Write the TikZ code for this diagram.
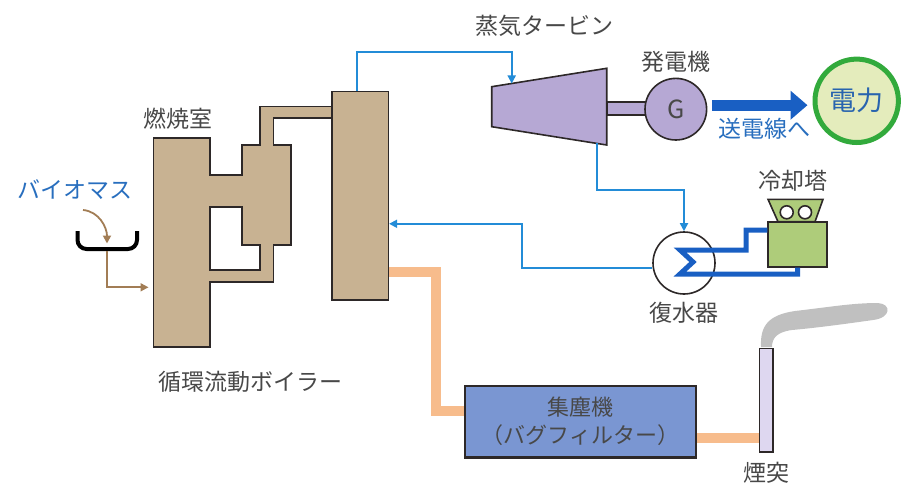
\documentclass[tikz,border=0pt]{standalone}
\usepackage{fontspec}
\newfontfamily\jpfont{Noto Sans CJK JP}
\usepackage{tikz}
\usetikzlibrary{positioning, arrows.meta, calc}

\definecolor{boilertan}{RGB}{200,178,146}
\definecolor{outlinegray}{RGB}{45,40,40}
\definecolor{txtgray}{RGB}{72,72,72}
\definecolor{steamblue}{RGB}{35,140,215}
\definecolor{waterblue}{RGB}{25,95,195}
\definecolor{labelblue}{RGB}{40,110,190}
\definecolor{turbinepurple}{RGB}{182,168,212}
\definecolor{feedbrown}{RGB}{162,125,85}
\definecolor{flueorange}{RGB}{247,188,140}
\definecolor{filterblue}{RGB}{122,150,210}
\definecolor{towergreen}{RGB}{174,204,122}
\definecolor{powergreen}{RGB}{50,170,60}
\definecolor{powerfill}{RGB}{228,236,188}
\definecolor{stackfill}{RGB}{222,215,240}
\definecolor{smokegray}{RGB}{192,192,192}

\begin{document}
\begin{tikzpicture}[
    x=1pt, y=-1pt,
    lbltext/.style={font=\jpfont\fontsize{23}{27}\selectfont, text=txtgray, inner sep=0pt},
    bluetext/.style={lbltext, text=labelblue},
    boilernode/.style={draw=outlinegray, line width=1.6pt, fill=boilertan},
    machinenode/.style={draw=outlinegray, line width=1.6pt, fill=turbinepurple},
    steamline/.style={steamblue, line width=1.8pt, -{Triangle[length=8pt,width=8pt]}},
    coolline/.style={waterblue, line width=5pt, line join=miter},
    flueline/.style={flueorange, line width=10pt},
    feedline/.style={feedbrown, line width=1.8pt, -{Triangle[length=8pt,width=8pt]}},
]
\useasboundingbox (0,0) rectangle (907,484);

% smoke and flue gas duct
\fill[smokegray] (761,347) .. controls (760,326) and (768,315) .. (795,311)
    .. controls (830,307) and (852,303) .. (878,303)
    .. controls (892,304) and (891,318) .. (873,320)
    .. controls (845,324) and (815,328) .. (792,330)
    .. controls (777,332) and (772,338) .. (772,347) -- cycle;

\node[boilernode, minimum width=56.6pt, minimum height=208.3pt, inner sep=0pt](riser) at (360,195.8){};
\node[draw=outlinegray, line width=2.4pt, fill=filterblue, minimum width=231pt, minimum height=71.3pt,
      font=\jpfont\fontsize{22}{28}\selectfont, text=txtgray, align=center](filter) at (580.5,421.7)
      {集塵機\\（バグフィルター）};
\node[draw=outlinegray, line width=1.6pt, fill=stackfill, minimum width=13.4pt, minimum height=103.4pt, inner sep=0pt](stack) at (766,400){};

\draw[flueline] ([yshift=-76pt]riser.east) -- ++(47,0) |- ([yshift=11pt]filter.west);
\coordinate (fout) at ([yshift=-16pt]filter.east);
\draw[flueline] (fout) -- (fout -| stack.west);

% combustion chamber, cyclone and downcomer
\draw[boilernode, even odd rule]
    (153.3,138.3) -- (210,138.3) -- (210,175) -- (241.7,175) -- (241.7,145) -- (260,145)
    -- (260,106.7) -- (331.7,106.7) -- (331.7,118.3) -- (273.3,118.3) -- (273.3,145)
    -- (290.7,145) -- (290.7,245) -- (273.3,245) -- (273.3,281.7) -- (210,281.7)
    -- (210,346.7) -- (153.3,346.7) -- cycle
    (210,206.7) -- (241.7,206.7) -- (241.7,245) -- (260,245) -- (260,270) -- (210,270) -- cycle;

% biomass hopper
\draw[black, line width=4pt, rounded corners=9pt] (77.5,231) -- (77.5,249) -- (137,249) -- (137,231);
\node[bluetext](biomass) at (75,190){バイオマス};
\coordinate (hopper) at (107,243.5);
\coordinate (feedin) at (148.5,287.3);
\draw[feedline] (83,210) to[out=-5, in=90] (hopper);
\draw[feedline] (107,251) |- (feedin);
\node[lbltext](chamber) at (177.5,118.3){燃焼室};
\node[lbltext](boilername) at (250,381.7){循環流動ボイラー};

% turbine and generator
\draw[machinenode] (491.7,86.7) -- (606.7,68.3) -- (606.7,145) -- (491.7,126.7) -- cycle;
\coordinate (turbin) at (511.7,83.5);
\coordinate (turbout) at (596.7,143.4);
\draw[machinenode] (606.7,102) rectangle (650,115);
\node[machinenode, circle, minimum size=61.6pt, inner sep=0pt,
      font=\jpfont\fontsize{25}{25}\selectfont, text=txtgray](gen) at (675.8,109.2){G};
\node[lbltext](turbinename) at (544,26){蒸気タービン};
\node[lbltext, above=5pt of gen](genname){発電機};

\coordinate (steamtop) at (511.7,51.7);
\draw[steamline] ([xshift=-3.3pt]riser.north) |- (steamtop) -- (turbin);

% power output
\node[circle, draw=powergreen, line width=5pt, fill=powerfill, minimum size=83.4pt, inner sep=0pt,
      font=\jpfont\fontsize{27}{27}\selectfont, text={rgb,255:red,40;green,100;blue,175}](power) at (856.7,100.8){電力};
\coordinate (genout) at ([yshift=4pt]gen.east);
\draw[waterblue, line width=11pt, -{Triangle[length=17pt,width=28pt]}, shorten <=5pt, shorten >=5pt]
    (genout) -- (genout -| power.west);
\node[bluetext](gridname) at (764,129){送電線へ};

% condenser and cooling tower
\node[circle, draw=outlinegray, line width=1.6pt, fill=white, minimum size=62pt, inner sep=0pt](cond) at (684,263){};
\node[lbltext, below=7pt of cond](condname){復水器};
\node[draw=outlinegray, line width=2pt, fill=towergreen, minimum width=58.4pt, minimum height=45pt, inner sep=0pt](tower) at (797.5,244.2){};
\draw[draw=outlinegray, line width=1.6pt, fill=towergreen] (778,221.7) -- (768,199.3) -- (823,199.3) -- (815,221.7) -- cycle;
\draw[outlinegray, line width=1.6pt, fill=white] (786.7,212.3) circle (6.5) (805,212.3) circle (6.5);
\node[lbltext](towername) at (793,181){冷却塔};

\draw[steamline] (turbout) -- ++(0,46.7) -| (cond.north);
\draw[steamline] ([yshift=-5pt]cond.west) -- ++(-130,0) |- ([yshift=-28pt]riser.east);
\draw[coolline] ([yshift=14pt]tower.west) -- ++(-21.3,0) |- ([xshift=-4pt,yshift=13pt]cond.center)
    -- ([xshift=9pt,yshift=1pt]cond.center) -- ([xshift=-4pt,yshift=-11pt]cond.center) -| (tower.south);

\node[lbltext, below=9pt of stack](stackname){煙突};
\end{tikzpicture}
\end{document}
